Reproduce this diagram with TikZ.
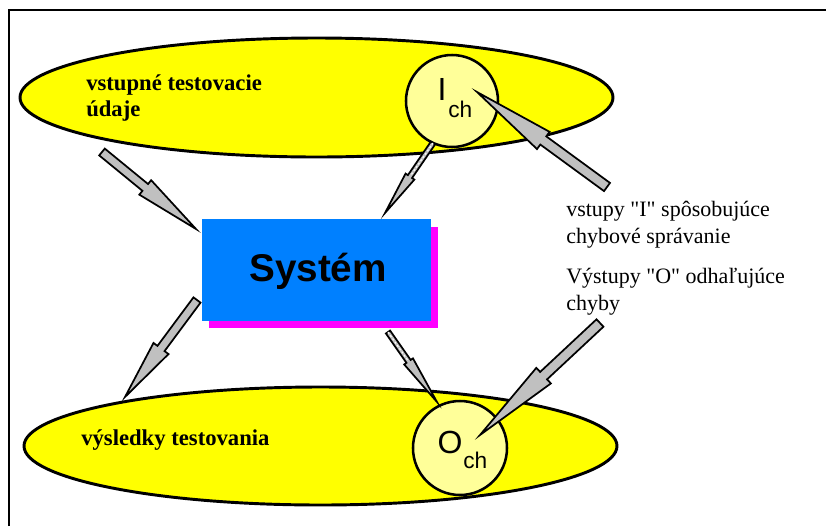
\documentclass[tikz,border=0pt]{standalone}
\usepackage{fontspec}
\setmainfont{Liberation Serif}[Ligatures=TeXOff]
\newfontfamily\arialfont{Liberation Sans}
\usetikzlibrary{calc}

\definecolor{setyellow}{RGB}{255,255,0}
\definecolor{subyellow}{RGB}{255,255,153}
\definecolor{sysblue}{RGB}{0,128,255}
\definecolor{sysmagenta}{RGB}{255,0,255}
\definecolor{dartgray}{RGB}{192,192,192}

% dart-shaped arrow: tail, tip, shaft half-width, barb half-width, step fraction
\newcommand\dartarrow[5]{%
  \path ($(#1)!#5!(#2)$) coordinate (dstep);
  \draw[dart]
    ($(#1)!#3!90:(#2)$) -- ($(dstep)!#3!90:(#2)$) -- ($(dstep)!#4!90:(#2)$)
    -- (#2)
    -- ($(dstep)!#4!-90:(#2)$) -- ($(dstep)!#3!-90:(#2)$) -- ($(#1)!#3!-90:(#2)$)
    -- cycle;
}

\tikzset{
  dart/.style={fill=dartgray, draw=black, line width=1.3pt, line join=miter},
  setshape/.style={fill=setyellow, draw=black, line width=2.2pt},
  subshape/.style={fill=subyellow, draw=black, line width=1.9pt},
  setlabel/.style={anchor=base west, inner sep=0pt, font=\fontsize{17}{20}\selectfont\bfseries},
  notelabel/.style={anchor=base west, inner sep=0pt, font=\fontsize{16.5}{20}\selectfont},
  subbig/.style={anchor=base, inner sep=0pt, font=\arialfont\fontsize{24}{28}\selectfont},
  subsmall/.style={anchor=base west, inner sep=0pt, font=\arialfont\fontsize{17}{20}\selectfont},
}

\begin{document}
\begin{tikzpicture}[x=0.75pt,y=-0.75pt]
\useasboundingbox (0,0) rectangle (826,526);

% frame edges
\draw[line width=2pt] (9,526) -- (9,10) -- (826,10);

% input and output sets
\path[setshape] (316.5,97.5) ellipse [x radius=296.5, y radius=59.5];
\path[setshape] (320.5,446) ellipse [x radius=296.5, y radius=59];

% critical subsets
\draw[subshape] (452,101) circle [radius=46];
\draw[subshape] (460,448) circle [radius=47];
\node[subbig] (ich) at (442,100) {I};
\node[subsmall] (ichsub) at (448,117) {ch};
\node[subbig] (och) at (450,453) {O};
\node[subsmall] (ochsub) at (463,468) {ch};

% system block with shadow
\fill[sysmagenta] (209,227) rectangle (438,328);
\node[fill=sysblue, minimum width=229*0.75pt, minimum height=102*0.75pt,
      inner sep=0pt, anchor=north west] (sys) at (202,219) {};
\node[anchor=base, inner sep=0pt, font=\arialfont\bfseries\fontsize{29}{34}\selectfont]
  (systxt) at (318,281) {Systém};

% labels
\node[setlabel] (in1) at (86,90) {vstupné testovacie};
\node[setlabel] (in2) at (86,116) {údaje};
\node[setlabel] (out1) at (81,445) {výsledky testovania};
\node[notelabel] (n1) at (566,216) {vstupy "I" spôsobujúce};
\node[notelabel] (n2) at (566,243) {chybové správanie};
\node[notelabel] (n3) at (566,283) {Výstupy "O" odhaľujúce};
\node[notelabel] (n4) at (566,310) {chyby};

% arrow end points
\coordinate (a1t) at (102,152);  \coordinate (a1h) at (196,229);
\coordinate (a2t) at (433,143);  \coordinate (a2h) at (385,213);
\coordinate (a3t) at (197,300);  \coordinate (a3h) at (125,397);
\coordinate (a4t) at (388,332);  \coordinate (a4h) at (437,402);
\coordinate (a5t) at (607,187);  \coordinate (a5h) at (477,92);
\coordinate (a6t) at (600,323);  \coordinate (a6h) at (480,435);

% arrows
\dartarrow{a1t}{a1h}{3.3pt}{7pt}{0.46}
\dartarrow{a3t}{a3h}{3.3pt}{7pt}{0.5}
\dartarrow{a5t}{a5h}{3.8pt}{8pt}{0.49}
\dartarrow{a6t}{a6h}{3.8pt}{8pt}{0.47}
\dartarrow{a2t}{a2h}{1.9pt}{4pt}{0.48}
\dartarrow{a4t}{a4h}{1.9pt}{4pt}{0.42}
\draw[white, line width=0.8pt, dash pattern=on 1.5pt off 1.5pt] (a2t) -- ($(a2t)!0.45!(a2h)$);
\draw[white, line width=0.8pt, dash pattern=on 1.5pt off 1.5pt] (a4t) -- ($(a4t)!0.4!(a4h)$);
\end{tikzpicture}
\end{document}
